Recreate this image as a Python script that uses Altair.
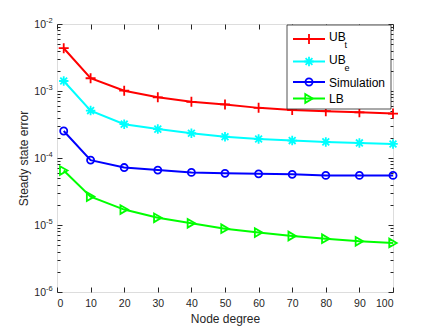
import altair as alt
import pandas as pd

# ---------------- data ----------------
x_vals = [2, 10, 20, 30, 40, 50, 60, 70, 80, 90, 100]
series_labels = ["UB_t", "UB_e", "Simulation", "LB"]
ub_t = [4.35e-3, 1.55e-3, 1.01e-3, 8.05e-4, 6.9e-4, 6.3e-4, 5.6e-4, 5.2e-4, 5.0e-4, 4.8e-4, 4.6e-4]
ub_e = [1.41e-3, 5.1e-4, 3.2e-4, 2.7e-4, 2.34e-4, 2.08e-4, 1.92e-4, 1.82e-4, 1.74e-4, 1.68e-4, 1.62e-4]
sim = [2.53e-4, 9.3e-5, 7.2e-5, 6.6e-5, 6.1e-5, 5.9e-5, 5.8e-5, 5.7e-5, 5.5e-5, 5.5e-5, 5.5e-5]
lb = [6.5e-5, 2.65e-5, 1.7e-5, 1.28e-5, 1.06e-5, 8.8e-6, 7.7e-6, 6.85e-6, 6.25e-6, 5.7e-6, 5.4e-6]
x_ticks = [0, 10, 20, 30, 40, 50, 60, 70, 80, 90, 100]
y_exponents = [-6, -5, -4, -3, -2]
legend_main = ["UB", "UB", "Simulation", "LB"]
legend_sub = ["t", "e", "", ""]

# ---------------- styles ----------------
colors = ["#FF0000", "#00FFFF", "#0000FF", "#00FF00"]
shapes = [
    "M-1,0L1,0M0,-1L0,1",
    "M-1,0L1,0M0,-1L0,1M-0.72,-0.72L0.72,0.72M-0.72,0.72L0.72,-0.72",
    "circle",
    "triangle-right",
]
sizes = [100, 90, 50, 75]
AX = "#262626"
FONT = "Liberation Sans"

rows = []
for name, vals in zip(series_labels, [ub_t, ub_e, sim, lb]):
    for xv, yv in zip(x_vals, vals):
        rows.append({"series": name, "x": xv, "value": yv})
df = pd.DataFrame(rows)

major = [10.0 ** e for e in y_exponents]
minor = [m * 10.0 ** e for e in y_exponents[:-1] for m in range(2, 10)]
y_ticks = sorted(major + minor)
lab_df = pd.DataFrame({"v": major, "exp": [str(e) for e in y_exponents]})

MAJ = "abs(log(datum.value)/LN10 - round(log(datum.value)/LN10)) < 0.001"
ytick = {"condition": {"test": MAJ, "value": -5}, "value": -3}

xs = alt.Scale(domain=[0, 100], nice=False, zero=False)
ys = alt.Scale(type="log", domain=[1e-6, 1e-2], nice=False)
color = alt.Color("series:N", scale=alt.Scale(domain=series_labels, range=colors), legend=None)
shape = alt.Shape("series:N", scale=alt.Scale(domain=series_labels, range=shapes), legend=None)

lines = alt.Chart(df).mark_line(strokeWidth=2).encode(
    x=alt.X("x:Q", scale=xs, axis=alt.Axis(
        orient="bottom", values=x_ticks, title="Node degree", tickSize={"expr": "-5"},
        labelPadding=11, titlePadding=5, grid=False, domain=False, tickColor=AX,
        labelColor=AX, titleColor=AX, labelFontSize=10.5, titleFontSize=12,
        titleFontWeight="normal", labelFont=FONT, titleFont=FONT)),
    y=alt.Y("value:Q", scale=ys, axis=alt.Axis(
        orient="left", values=y_ticks, labels=False, title="Steady state error",
        tickSize=ytick, titlePadding=26, grid=False, domain=False, tickColor=AX,
        titleColor=AX, titleFontSize=12, titleFontWeight="normal", titleFont=FONT)),
    color=color,
)

layers = [lines]
for i, name in enumerate(series_labels):
    if i == 0:
        xax = alt.Axis(orient="top", values=x_ticks, labels=False, title=None,
                       tickSize={"expr": "-5"}, grid=False, domain=False, tickColor=AX)
        yax = alt.Axis(orient="right", values=y_ticks, labels=False, title=None,
                       tickSize=ytick, grid=False, domain=False, tickColor=AX)
    else:
        xax = None
        yax = None
    layers.append(alt.Chart(df).transform_filter(alt.datum.series == name).mark_point(
        filled=False, strokeWidth=1.8, opacity=1, size=sizes[i]).encode(
        x=alt.X("x:Q", scale=xs, axis=xax),
        y=alt.Y("value:Q", scale=ys, axis=yax),
        color=color, shape=shape,
    ))

lab10 = alt.Chart(lab_df).mark_text(align="right", baseline="middle", fontSize=10.5,
                                    font=FONT, color=AX, dy=1).encode(
    x=alt.value(-11), y=alt.Y("v:Q", scale=ys, axis=None), text=alt.value("10"))
labexp = alt.Chart(lab_df).mark_text(align="left", baseline="middle", fontSize=7.5,
                                     font=FONT, color=AX, dy=-3).encode(
    x=alt.value(-11), y=alt.Y("v:Q", scale=ys, axis=None), text="exp:N")
layers += [lab10, labexp]

# legend box
box = alt.Chart(pd.DataFrame({"a": [0]})).mark_rect(fill="white", stroke=AX, strokeWidth=0.8).encode(
    x=alt.value(230), x2=alt.value(334), y=alt.value(1), y2=alt.value(85))
layers.append(box)

line_y = [15, 37.5, 58, 74.5]
text_y = [13.3, 36, 58.5, 75]
for i, name in enumerate(series_labels):
    d = pd.DataFrame({"series": [name]})
    layers.append(alt.Chart(d).mark_rule(strokeWidth=2).encode(
        x=alt.value(236), x2=alt.value(268), y=alt.value(line_y[i]), color=color))
    layers.append(alt.Chart(d).mark_point(filled=False, strokeWidth=1.8, opacity=1,
                                          size=sizes[i]).encode(
        x=alt.value(252), y=alt.value(line_y[i]), color=color, shape=shape))
    layers.append(alt.Chart(d).mark_text(align="left", baseline="middle", fontSize=12,
                                         font=FONT, color="black").encode(
        x=alt.value(272), y=alt.value(text_y[i]), text=alt.value(legend_main[i])))
    if legend_sub[i]:
        layers.append(alt.Chart(d).mark_text(align="left", baseline="middle", fontSize=9,
                                             font=FONT, color="black").encode(
            x=alt.value(287.5), y=alt.value(text_y[i] + 7.5), text=alt.value(legend_sub[i])))

chart = alt.layer(*layers).resolve_axis(x="independent", y="independent").properties(
    width=336, height=268,
    autosize=alt.AutoSizeParams(type="none"),
    padding={"left": 49, "top": 16, "right": 35, "bottom": 36},
).configure_view(stroke=AX, strokeWidth=1).configure(background="white")

chart.save("out.html", embed_options={"renderer": "svg", "actions": False})
